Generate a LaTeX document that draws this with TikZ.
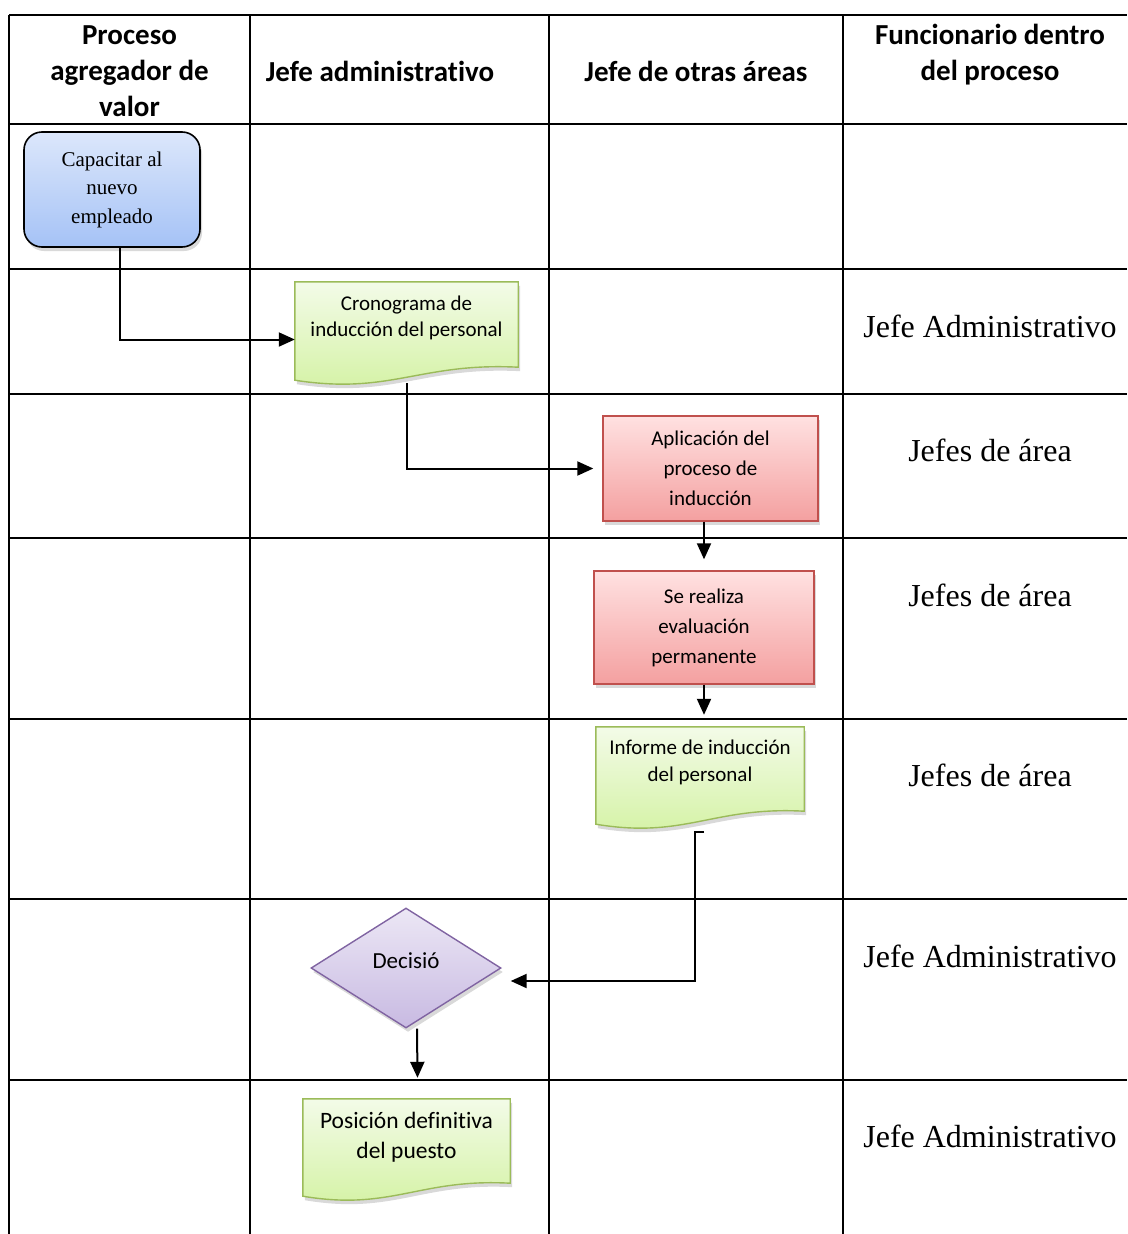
\documentclass[tikz,border=0pt]{standalone}
\usepackage{fontspec}
\setmainfont{Liberation Serif}
\newfontfamily\cuerpo[RawFeature={-liga;-clig;-calt;-dlig}]{Carlito}
\usetikzlibrary{arrows.meta,shapes.geometric,shadows,calc,backgrounds}

\definecolor{azulA}{HTML}{DCE7FB}
\definecolor{azulB}{HTML}{A5C2F6}
\definecolor{verdeA}{HTML}{F3FBE8}
\definecolor{verdeB}{HTML}{D3F2A2}
\definecolor{verdeC}{HTML}{9BBB59}
\definecolor{rojoA}{HTML}{FFE1E1}
\definecolor{rojoB}{HTML}{F4A0A0}
\definecolor{rojoC}{HTML}{C0504D}
\definecolor{moradoA}{HTML}{ECE7F5}
\definecolor{moradoB}{HTML}{C8BAE2}
\definecolor{moradoC}{HTML}{8064A2}

\tikzset{
  rejilla/.style={line width=2pt},
  flecha/.style={line width=2pt,-{Triangle[length=16pt,width=14pt]}},
  sombra/.style={drop shadow={shadow xshift=2pt,shadow yshift=-4pt,opacity=0.3}},
  titulo/.style={align=center,font=\cuerpo\bfseries\fontsize{29}{36}\selectfont},
  funcionario/.style={font=\fontsize{32}{38}\selectfont},
  inicio/.style={rectangle,rounded corners=18pt,draw=black,line width=1.6pt,
    top color=azulA,bottom color=azulB,sombra,align=center,
    minimum width=176pt,minimum height=115pt,font=\fontsize{21}{28.5}\selectfont},
  actividad/.style={rectangle,draw=rojoC,line width=1.4pt,
    top color=rojoA,bottom color=rojoB,sombra,align=center,
    font=\cuerpo\fontsize{21}{30}\selectfont},
  documento/.style={rectangle,align=center,inner sep=0pt,text depth=17pt,
    font=\cuerpo\fontsize{21}{26.5}\selectfont},
  hoja/.style={draw=verdeC,line width=1.4pt,top color=verdeA,bottom color=verdeB,sombra},
  decision/.style={diamond,draw=moradoC,line width=1.4pt,
    top color=moradoA,bottom color=moradoB,sombra,inner sep=0pt,text depth=15pt,
    minimum width=190pt,minimum height=120pt,font=\cuerpo\fontsize{23}{28}\selectfont},
}

% hoja con borde ondulado abajo, detras del nodo #1
\newcommand{\hojadoc}[1]{%
  \begin{pgfonlayer}{background}
    \path[hoja] (#1.north west) -- (#1.north east) -- (#1.south east)
      .. controls ($(#1.south east)!0.44!(#1.south west)+(0,-5)$)
      and ($(#1.south east)!0.57!(#1.south west)+(0,28)$)
      .. ($(#1.south west)+(0,13)$) -- cycle;
  \end{pgfonlayer}}

\begin{document}
\begin{tikzpicture}[x=1pt,y=-1pt]
\useasboundingbox (0,0) rectangle (1127,1234);
% tabla
\draw[rejilla] (9,15) -- (1127,15);
\draw[rejilla] (9,124) -- (1127,124);
\draw[rejilla] (9,269) -- (1127,269);
\draw[rejilla] (9,394) -- (1127,394);
\draw[rejilla] (9,538) -- (1127,538);
\draw[rejilla] (9,719) -- (1127,719);
\draw[rejilla] (9,899) -- (1127,899);
\draw[rejilla] (9,1080) -- (1127,1080);
\draw[rejilla] (9,15) -- (9,1234);
\draw[rejilla] (250,15) -- (250,1234);
\draw[rejilla] (549,15) -- (549,1234);
\draw[rejilla] (843,15) -- (843,1234);
% encabezados
\node[titulo] (colproceso) at (129.5,71) {Proceso\\agregador de\\valor};
\node[titulo] (coljefe) at (380,71) {Jefe administrativo};
\node[titulo] (colotras) at (696,71) {Jefe de otras áreas};
\node[titulo] (colfunc) at (990,55) {Funcionario dentro\\del proceso};
% funcionarios
\node[funcionario] (f2) at (990,326) {Jefe Administrativo};
\node[funcionario] (f3) at (990,450) {Jefes de área};
\node[funcionario] (f4) at (990,595) {Jefes de área};
\node[funcionario] (f5) at (990,775) {Jefes de área};
\node[funcionario] (f6) at (990,956) {Jefe Administrativo};
\node[funcionario] (f7) at (990,1136) {Jefe Administrativo};
% pasos
\node[inicio] (capacitar) at (112,189.5) {Capacitar al\\nuevo\\empleado};
\node[documento,minimum width=223pt,minimum height=85pt] (cronograma) at (406.5,324.5)
  {Cronograma de\\inducción del personal};
\hojadoc{cronograma}
\node[actividad,minimum width=215pt,minimum height=105pt] (aplicacion) at (710.5,468.5)
  {Aplicación del\\proceso de\\inducción};
\node[actividad,minimum width=220pt,minimum height=113pt] (evaluacion) at (704,627.5)
  {Se realiza\\evaluación\\permanente};
\node[documento,minimum width=208pt,minimum height=84pt] (informe) at (700,769)
  {Informe de inducción\\del personal};
\hojadoc{informe}
\node[decision] (decision) at (406,968) {Decisió};
\node[documento,minimum width=207pt,minimum height=84pt,text depth=11pt,
  font=\cuerpo\fontsize{23.5}{30}\selectfont] (posicion) at (406.5,1141)
  {Posición definitiva\\del puesto};
\hojadoc{posicion}
% flujo
\draw[flecha] ([xshift=8pt]capacitar.south) |- ([yshift=-15pt]cronograma.west);
\draw[flecha,shorten >=9pt] ([yshift=-16pt]cronograma.south) |- (aplicacion.west);
\draw[flecha,shorten >=11pt] (evaluacion.north |- aplicacion.south) -- (evaluacion.north);
\draw[flecha,shorten >=12pt] (evaluacion.south) -- (evaluacion.south |- informe.north);
\draw[flecha,shorten >=9pt] ([xshift=4pt,yshift=-21pt]informe.south) -- ++(-9,0)
  |- ([yshift=-13pt]decision.east);
\draw[flecha] ([xshift=11pt]decision.south) -- ([xshift=11pt,yshift=21pt]posicion.north);
\end{tikzpicture}
\end{document}
